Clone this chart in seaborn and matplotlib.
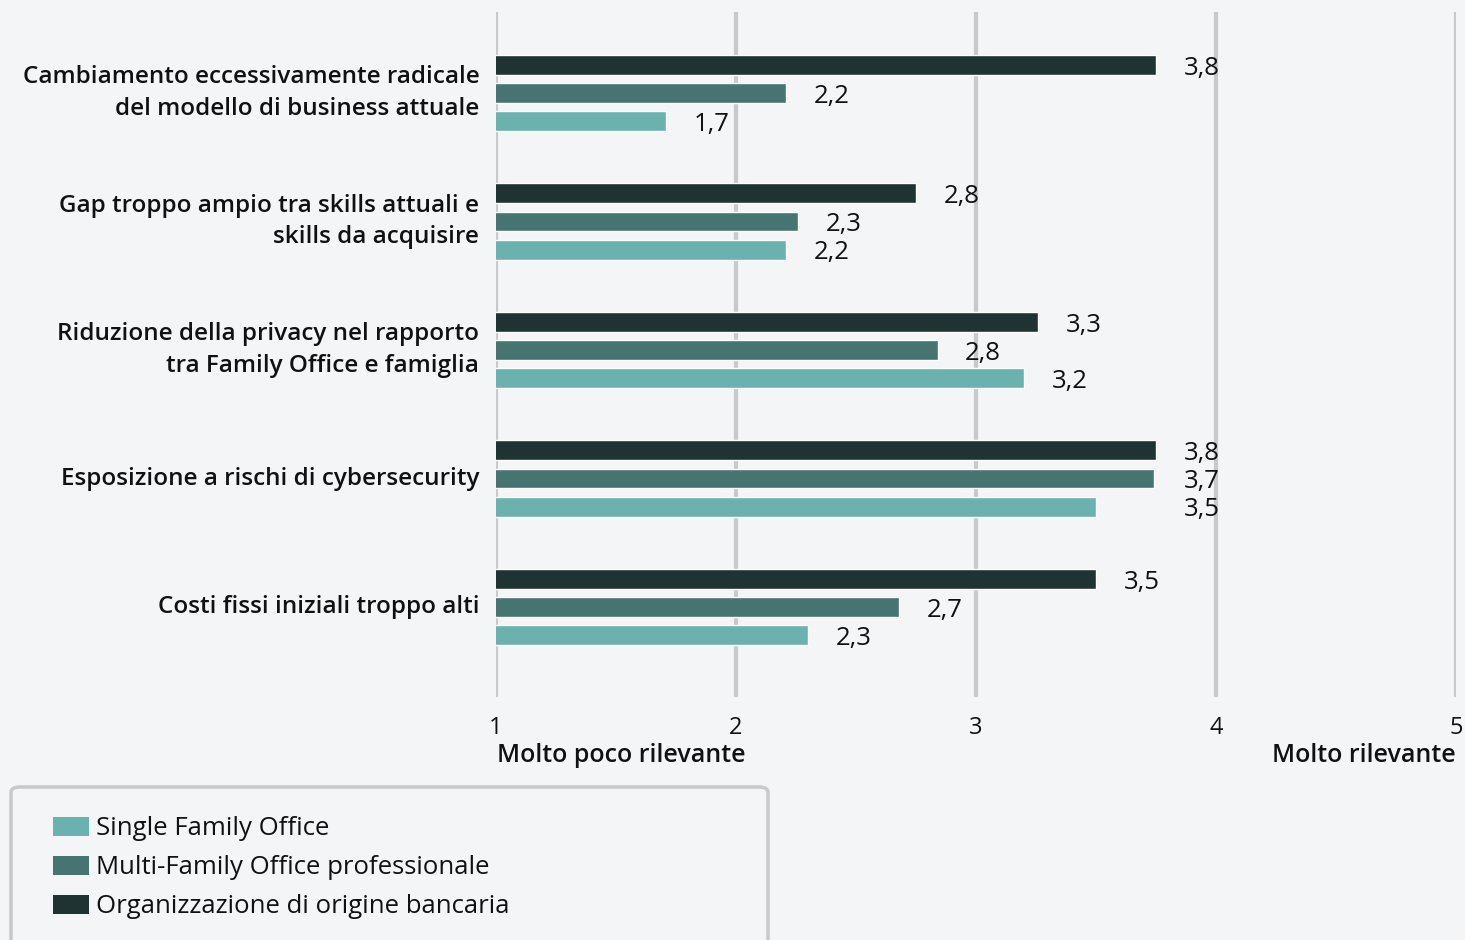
import matplotlib
matplotlib.use("Agg")
import matplotlib.pyplot as plt
import seaborn as sns
import pandas as pd
from matplotlib.patches import FancyBboxPatch, Patch

categories = [
    "Cambiamento eccessivamente radicale\ndel modello di business attuale",
    "Gap troppo ampio tra skills attuali e\nskills da acquisire",
    "Riduzione della privacy nel rapporto\ntra Family Office e famiglia",
    "Esposizione a rischi di cybersecurity",
    "Costi fissi iniziali troppo alti",
]
series_names = ["Single Family Office", "Multi-Family Office professionale", "Organizzazione di origine bancaria"]
single_fo = [1.71, 2.21, 3.20, 3.50, 2.30]
multi_fo = [2.21, 2.26, 2.84, 3.74, 2.68]
banking = [3.75, 2.75, 3.26, 3.75, 3.50]
x_ticks = [1, 2, 3, 4, 5]
x_low_label = "Molto poco rilevante"
x_high_label = "Molto rilevante"

colors = {series_names[0]: "#6AB2AE", series_names[1]: "#467471", series_names[2]: "#1F3432"}
bg = "#F4F5F7"
txt = "#111111"

rows = []
for name, vals in zip(series_names, [single_fo, multi_fo, banking]):
    for c, v in zip(categories, vals):
        rows.append({"cat": c, "serie": name, "val": v})
df = pd.DataFrame(rows)

sns.set_style("white")
plt.rcParams["font.family"] = ["Open Sans", "DejaVu Sans"]

fig = plt.figure(figsize=(14.65, 9.4), dpi=100, facecolor=bg)
ax = fig.add_axes([496 / 1465, 1 - 697 / 940, (1456 - 496) / 1465, (697 - 12) / 940])
ax.set_facecolor(bg)

hue_order = [series_names[2], series_names[1], series_names[0]]
sns.barplot(data=df, y="cat", x="val", hue="serie", hue_order=hue_order,
            order=categories, palette=colors, orient="h", width=0.655, gap=0.29,
            legend=False, ax=ax, saturation=1)

ax.set_xlim(1, 5)
ax.set_ylim(4.70, -0.63)
ax.set_xticks(x_ticks)
ax.set_xticklabels([str(t) for t in x_ticks])
for t in x_ticks:
    ax.axvline(t, color="#C9C9C9", lw=3, zorder=0)
ax.grid(False)
for s in ax.spines.values():
    s.set_visible(False)
ax.tick_params(axis="x", length=0, pad=14, labelsize=17, labelcolor=txt)
ax.tick_params(axis="y", length=0, pad=12, labelcolor=txt)
for lab in ax.get_yticklabels():
    lab.set_fontsize(17.5)
    lab.set_fontweight("semibold")
    lab.set_ha("right")
    lab.set_va("center")
    lab.set_multialignment("right")
    lab.set_linespacing(1.4)
ax.set_xlabel("")
ax.set_ylabel("")

# value labels
series_vals = {series_names[0]: single_fo, series_names[1]: multi_fo, series_names[2]: banking}
for cont, name in zip(ax.containers, hue_order):
    vals = series_vals[name]
    for i, bar in enumerate(cont):
        group = [single_fo[i], multi_fo[i], banking[i]]
        v = vals[i]
        base = max(group) if (max(group) - min(group)) < 0.3 else v
        y = bar.get_y() + bar.get_height() / 2
        ax.text(base + 0.115, y + 0.025, f"{v:.1f}".replace(".", ","), va="center", ha="left",
                fontsize=18.5, color=txt)

fig.text(497 / 1465, 1 - 755 / 940, x_low_label, ha="left", va="center", fontsize=18,
         fontweight="semibold", color=txt)
fig.text(1456 / 1465, 1 - 755 / 940, x_high_label, ha="right", va="center", fontsize=18,
         fontweight="semibold", color=txt)

# legend box
box = FancyBboxPatch((11 / 1465, -0.05), (768 - 11) / 1465, (0.05 + 1 - 787 / 940),
                     boxstyle="round,pad=0,rounding_size=0.006", transform=fig.transFigure,
                     facecolor=bg, edgecolor="#C9C9C9", lw=2.5, zorder=1)
fig.patches.append(box)
handles = [Patch(facecolor=colors[n], edgecolor="none") for n in series_names]
leg = fig.legend(handles, series_names, loc="upper left", bbox_to_anchor=(30 / 1465, 1 - 793 / 940),
                 frameon=False, fontsize=18.5, handlelength=1.4, handleheight=0.75,
                 handletextpad=0.25, labelspacing=0.55)
for t in leg.get_texts():
    t.set_color(txt)

fig.savefig("out.png", dpi=100, facecolor=bg)
